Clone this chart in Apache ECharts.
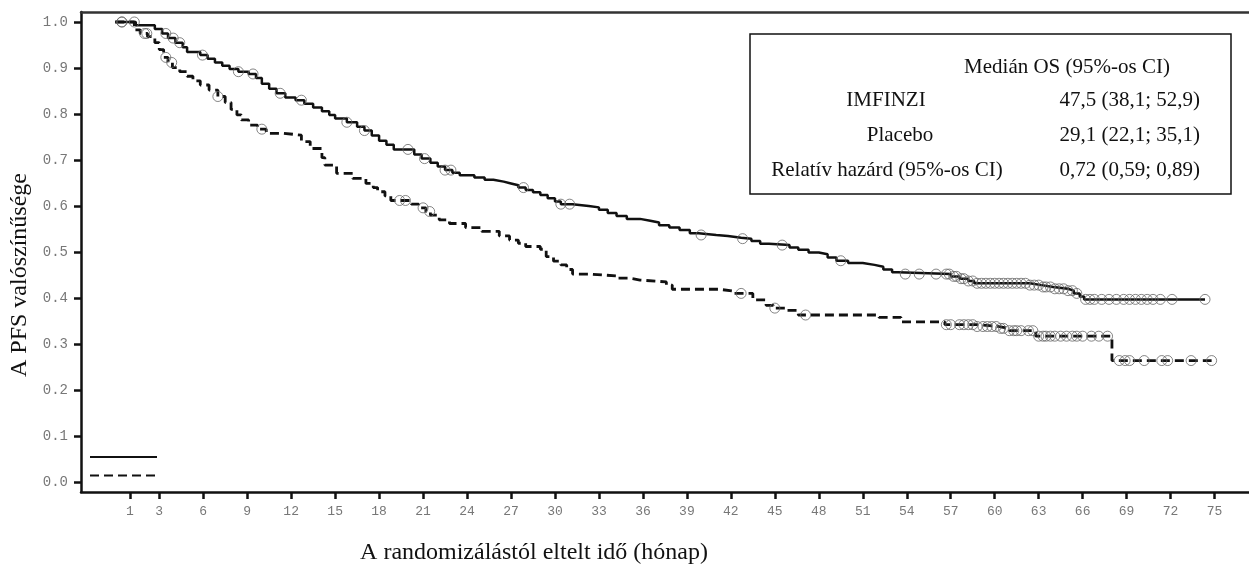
<!DOCTYPE html>
<html>
<head>
<meta charset="utf-8">
<script src="https://cdn.jsdelivr.net/npm/echarts@6/dist/echarts.min.js"></script>
<style>
  html, body { margin: 0; padding: 0; background: #ffffff; }
  #chart { width: 1249px; height: 568px; }
</style>
</head>
<body>
<div id="chart"></div>
<script>
// Axis tick positions
const xTicks = [1, 3, 6, 9, 12, 15, 18, 21, 24, 27, 30, 33, 36, 39, 42, 45, 48, 51, 54, 57, 60, 63, 66, 69, 72, 75];
const yTicks = [0, 0.1, 0.2, 0.3, 0.4, 0.5, 0.6, 0.7, 0.8, 0.9, 1.0];

// Kaplan-Meier steps, IMFINZI arm (time in months, survival probability)
const imfTimes = [0, 1.4, 2.7, 3.2, 3.6, 4.1, 4.6, 4.9, 5.8, 6.3, 6.8, 7.3, 7.8, 8.4, 9.1, 9.6, 10.0, 10.5, 11.0, 11.6,
  12.3, 12.9, 13.5, 14.1, 14.6, 15.0, 15.8, 16.5, 17.0, 17.5, 18.0, 18.5, 19.0, 20.4, 20.9, 21.5, 22.0, 22.5, 23.0, 23.5,
  24.5, 25.2, 25.8, 26.5, 27.0, 27.5, 28.0, 28.5, 29.0, 29.5, 30.0, 30.4, 31.2, 32.3, 33.0, 33.6, 34.2, 34.9, 35.8, 36.5,
  37.1, 37.8, 38.5, 39.2, 39.8, 41.0, 41.8, 42.7, 43.4, 44.0, 44.6, 46.0, 46.6, 47.3, 48.0, 48.6, 49.2, 50.0, 51.0, 51.8,
  52.4, 53.0, 53.4, 57.0, 57.6, 58.2, 58.6, 62.4, 63.2, 64.0, 65.0, 65.4, 65.8, 66.1, 74.35];
const imfSurv = [1.0, 0.993, 0.985, 0.975, 0.965, 0.955, 0.945, 0.935, 0.928, 0.92, 0.912, 0.905, 0.898, 0.892, 0.887, 0.878, 0.866, 0.855, 0.845, 0.836,
  0.83, 0.822, 0.814, 0.806, 0.798, 0.79, 0.782, 0.772, 0.764, 0.753, 0.742, 0.733, 0.723, 0.712, 0.703, 0.694, 0.686, 0.678, 0.672, 0.667,
  0.662, 0.657, 0.653, 0.649, 0.645, 0.64, 0.635, 0.63, 0.624, 0.617, 0.61, 0.604, 0.6, 0.597, 0.592, 0.585, 0.578, 0.572, 0.568, 0.564,
  0.558, 0.553, 0.548, 0.541, 0.537, 0.535, 0.531, 0.529, 0.524, 0.518, 0.515, 0.51, 0.505, 0.499, 0.495, 0.488, 0.481, 0.476, 0.472, 0.468,
  0.462, 0.456, 0.452, 0.447, 0.442, 0.437, 0.432, 0.428, 0.424, 0.42, 0.416, 0.41, 0.403, 0.397, 0.397];
// Censoring times, IMFINZI arm
const imfCensor = [0.45, 1.3, 3.45, 3.95, 4.4, 5.95, 8.4, 9.4, 11.25, 12.7, 15.8, 17.0, 19.97, 21.1, 22.5, 22.9, 27.85, 30.4, 31.0,
  39.97, 42.8, 45.5, 49.5, 53.9, 54.85, 56.0, 56.7, 56.9, 57.2, 57.4, 57.7, 57.9, 58.2, 58.5, 58.8, 59.1, 59.4, 59.7, 60.0, 60.3,
  60.6, 60.9, 61.2, 61.5, 61.8, 62.1, 62.4, 62.7, 63.0, 63.3, 63.5, 63.8, 64.1, 64.4, 64.7, 65.0, 65.3, 65.6, 66.2, 66.5, 66.8,
  67.3, 67.8, 68.3, 68.8, 69.2, 69.6, 70.0, 70.4, 70.8, 71.3, 72.1, 74.35];

// Kaplan-Meier steps, placebo arm
const plaTimes = [0, 1.3, 1.7, 2.2, 2.7, 3.0, 3.3, 3.6, 3.9, 4.4, 4.9, 5.3, 5.8, 6.4, 7.0, 7.5, 7.9, 8.3, 8.6, 9.1,
  9.7, 10.3, 11.5, 12.7, 13.3, 14.1, 14.3, 15.1, 16.2, 17.1, 17.6, 17.9, 18.4, 18.8, 20.2, 20.7, 21.2, 21.5, 22.1, 22.8,
  23.9, 25.0, 26.2, 26.9, 27.5, 28.0, 29.0, 29.4, 29.9, 30.4, 30.8, 31.2, 32.4, 34.2, 35.1, 35.8, 37.6, 38.0, 41.2, 42.2,
  43.5, 44.4, 44.9, 45.8, 46.6, 52.1, 53.6, 56.6, 58.8, 60.3, 61.0, 62.8, 68.0, 74.8];
const plaSurv = [1.0, 0.983, 0.975, 0.968, 0.955, 0.94, 0.923, 0.912, 0.901, 0.892, 0.882, 0.872, 0.863, 0.852, 0.838, 0.825, 0.81, 0.798, 0.787, 0.776,
  0.767, 0.758, 0.754, 0.74, 0.725, 0.705, 0.689, 0.671, 0.66, 0.649, 0.64, 0.631, 0.622, 0.612, 0.604, 0.596, 0.588, 0.58, 0.57, 0.562,
  0.553, 0.545, 0.535, 0.526, 0.519, 0.512, 0.506, 0.49, 0.48, 0.472, 0.462, 0.452, 0.448, 0.443, 0.439, 0.435, 0.428, 0.419, 0.415, 0.41,
  0.396, 0.384, 0.378, 0.373, 0.363, 0.358, 0.348, 0.342, 0.338, 0.334, 0.329, 0.317, 0.264, 0.264];
// Censoring times, placebo arm
const plaCensor = [0.45, 2.0, 2.15, 3.45, 3.85, 7.0, 10.0, 19.4, 19.8, 21.0, 21.45, 42.7, 45.0, 47.1, 56.7, 57.0, 57.6, 57.9,
  58.2, 58.5, 58.8, 59.2, 59.5, 59.8, 60.1, 60.4, 60.6, 61.0, 61.3, 61.5, 61.8, 62.3, 62.6, 63.0, 63.3, 63.5, 63.8, 64.1, 64.5,
  64.9, 65.3, 65.6, 66.0, 66.6, 67.1, 67.7, 68.5, 68.9, 69.2, 70.2, 71.4, 71.8, 73.4, 74.8];

// Summary table
const tableHeader = 'Medián OS (95%-os CI)';
const tableLabels = ['IMFINZI', 'Placebo', 'Relatív hazárd (95%-os CI)'];
const tableValues = ['47,5 (38,1; 52,9)', '29,1 (22,1; 35,1)', '0,72 (0,59; 0,89)'];

const xTitle = 'A randomizálástól eltelt idő (hónap)';
const yTitle = 'A PFS valószínűsége';

// survival level of a step curve at time t
function levelAt(times, surv, t) {
  let v = surv[0];
  for (let i = 0; i < times.length; i++) {
    if (times[i] <= t + 1e-9) v = surv[i]; else break;
  }
  return v;
}
const pairs = (ts, ss) => ts.map((t, i) => [t, ss[i]]);
const censorPts = (cs, ts, ss) => cs.map(t => [t, levelAt(ts, ss, t)]);

const serif = '"Liberation Serif", "Times New Roman", serif';
const mono = '"Liberation Mono", "Courier New", monospace';

const chart = echarts.init(document.getElementById('chart'), null, { renderer: 'canvas' });

const xMin = -2.338, xMax = 77.35;
const axisDark = '#111111';
const labelGrey = '#777777';

const rowY = [100, 135, 170];
const labelCx = [886, 900, 887];

const tableGraphics = [
  { type: 'rect', shape: { x: 750, y: 34, width: 481, height: 160 },
    style: { fill: '#ffffff', stroke: '#111111', lineWidth: 1.5 }, z: 10 },
  { type: 'text', x: 1067, y: 67, z: 11,
    style: { text: tableHeader, font: '21px ' + serif, fill: '#111111', textAlign: 'center', textVerticalAlign: 'middle' } }
];
tableLabels.forEach((lab, i) => {
  tableGraphics.push({ type: 'text', x: labelCx[i], y: rowY[i], z: 11,
    style: { text: lab, font: '21px ' + serif, fill: '#111111', textAlign: 'center', textVerticalAlign: 'middle' } });
  tableGraphics.push({ type: 'text', x: 1200, y: rowY[i], z: 11,
    style: { text: tableValues[i], font: '21px ' + serif, fill: '#111111', textAlign: 'right', textVerticalAlign: 'middle' } });
});

const option = {
  backgroundColor: '#ffffff',
  animation: false,
  grid: { left: 81, right: -1, top: 12, bottom: 76, containLabel: false },
  legend: {
    data: ['IMFINZI', 'Placebo'],
    orient: 'vertical',
    left: 89,
    top: 450,
    padding: 0,
    itemWidth: 67,
    itemHeight: 14,
    itemGap: 6,
    formatter: () => '',
    textStyle: { fontSize: 1 },
    itemStyle: { opacity: 0 },
    selectedMode: false
  },
  xAxis: [
    {
      type: 'value', min: xMin, max: xMax, position: 'bottom',
      splitLine: { show: false },
      axisLine: { show: true, onZero: false, lineStyle: { color: axisDark, width: 2.5 } },
      axisTick: { show: true, inside: false, length: 7, customValues: xTicks, lineStyle: { color: axisDark, width: 2.5 } },
      axisLabel: { show: true, customValues: xTicks, margin: 13, color: labelGrey, fontFamily: mono, fontSize: 13 }
    },
    {
      type: 'value', min: xMin, max: xMax, position: 'top',
      splitLine: { show: false },
      axisLine: { show: true, onZero: false, lineStyle: { color: '#333333', width: 2.5 } },
      axisTick: { show: false },
      axisLabel: { show: false }
    }
  ],
  yAxis: {
    type: 'value', min: -0.0217, max: 1.0217,
    splitLine: { show: false },
    axisLine: { show: true, onZero: false, lineStyle: { color: axisDark, width: 2.5 } },
    axisTick: { show: true, inside: false, length: 7, customValues: yTicks, lineStyle: { color: axisDark, width: 2.5 } },
    axisLabel: { show: true, customValues: yTicks, margin: 13, color: labelGrey, fontFamily: mono, fontSize: 14,
      formatter: v => v.toFixed(1) }
  },
  graphic: [
    { type: 'text', x: 534, y: 553,
      style: { text: xTitle, font: '24px ' + serif, fill: '#111111', textAlign: 'center', textVerticalAlign: 'middle' } },
    { type: 'text', x: 20, y: 275, rotation: Math.PI / 2,
      style: { text: yTitle, font: '24px ' + serif, fill: '#111111', textAlign: 'center', textVerticalAlign: 'middle' } },
    ...tableGraphics
  ],
  series: [
    {
      name: 'IMFINZI', type: 'line', step: 'end', symbol: 'none', z: 2,
      data: pairs(imfTimes, imfSurv),
      lineStyle: { color: '#111111', width: 2.5, type: 'solid' },
      itemStyle: { color: '#111111' }
    },
    {
      name: 'Placebo', type: 'line', step: 'end', symbol: 'none', z: 2,
      data: pairs(plaTimes, plaSurv),
      lineStyle: { color: '#111111', width: 2.8, type: [9, 5] },
      itemStyle: { color: '#111111' }
    },
    {
      name: 'IMFINZI cenzorált', type: 'scatter', z: 3, symbol: 'circle', symbolSize: 10,
      data: censorPts(imfCensor, imfTimes, imfSurv),
      itemStyle: { color: 'rgba(0,0,0,0)', borderColor: '#666666', borderWidth: 1 }
    },
    {
      name: 'Placebo cenzorált', type: 'scatter', z: 3, symbol: 'circle', symbolSize: 10,
      data: censorPts(plaCensor, plaTimes, plaSurv),
      itemStyle: { color: 'rgba(0,0,0,0)', borderColor: '#666666', borderWidth: 1 }
    }
  ]
};

chart.setOption(option);
</script>
</body>
</html>
